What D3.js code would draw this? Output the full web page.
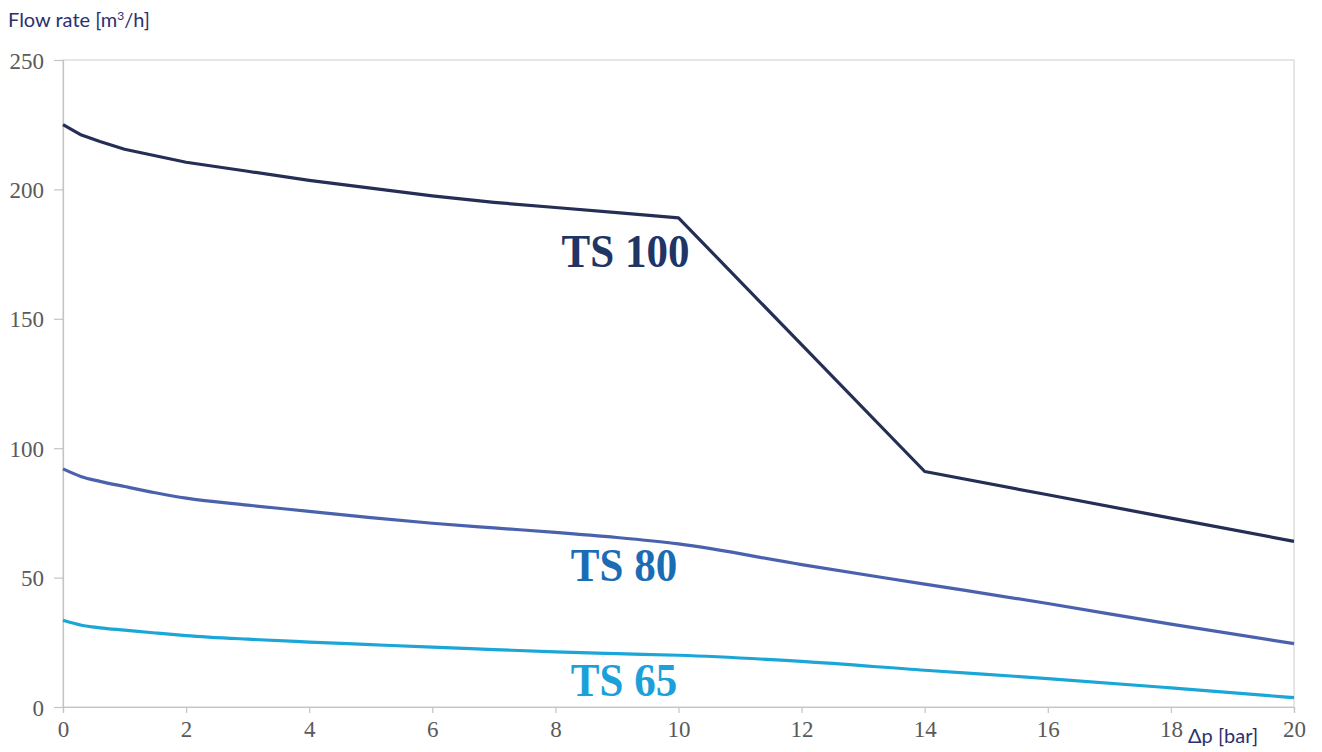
<!DOCTYPE html>
<html>
<head>
<meta charset="utf-8">
<script src="https://cdn.jsdelivr.net/npm/d3@7"></script>
<style>
    body { margin: 0; background: #fff; }
    .tick text { font-family: 'Liberation Serif', 'Times New Roman', serif; fill: #5a5a5a; }
</style>
</head>
<body>
<svg id="chart" width="1322" height="752"></svg>
<script>
// pressure difference [bar]
const pressure = [0, 0.3, 0.6, 1, 1.5, 2, 3, 4, 5, 6, 7, 8, 9, 10, 12, 14, 16, 18, 20];

// flow rate [m3/h] per pump
const ts100 = [225, 221, 218.5, 215.5, 213, 210.5, 207, 203.5, 200.5, 197.5, 195, 193, 191, 189, 140, 91, 82, 73, 64];
const ts80 = [92, 89, 87.2, 85.2, 82.8, 80.7, 78, 75.6, 73.2, 71, 69.2, 67.5, 65.5, 63, 55, 47.5, 40, 32, 24.5];
const ts65 = [33.5, 31.6, 30.6, 29.7, 28.6, 27.6, 26.2, 25.1, 24.1, 23.1, 22.2, 21.3, 20.6, 20, 17.6, 14.2, 11, 7.4, 3.6];

const seriesNames = ['TS 100', 'TS 80', 'TS 65'];
const xTicks = [0, 2, 4, 6, 8, 10, 12, 14, 16, 18, 20];
const yTicks = [0, 50, 100, 150, 200, 250];

const lineColors = ['#252e55', '#4a62ad', '#1ba6d8'];
const labelColors = ['#1f3565', '#1a6db5', '#1ba0da'];
// where each series label sits, in data units
const labelPos = [[8.1, 170], [8.25, 48.5], [8.25, 4.2]];

const svg = d3.select('#chart');
const margin = { top: 60, right: 28, bottom: 45, left: 63 };
const width = svg.attr('width') - margin.left - margin.right;
const height = svg.attr('height') - margin.top - margin.bottom;
const g = svg.append('g').attr('transform', `translate(${margin.left},${margin.top})`);

const x = d3.scaleLinear().domain([0, 20]).range([0, width]);
const y = d3.scaleLinear().domain([0, 250]).range([height, 0]);

// frame
g.append('rect')
    .attr('width', width)
    .attr('height', height)
    .attr('fill', 'none')
    .attr('stroke', '#d6d6d6')
    .attr('stroke-width', 1.2);

const xAxis = g.append('g')
    .attr('transform', `translate(0,${height})`)
    .call(d3.axisBottom(x).tickValues(xTicks).tickSize(6).tickPadding(8).tickFormat(d3.format('d')));
xAxis.selectAll('text').attr('font-size', 23);

const yAxis = g.append('g')
    .call(d3.axisLeft(y).tickValues(yTicks).tickSize(9).tickPadding(10).tickFormat(d3.format('d')));
yAxis.selectAll('text').attr('font-size', 23).attr('dy', '0.35em');

g.selectAll('.domain').attr('stroke', '#c4c4c4').attr('stroke-width', 1.2);
g.selectAll('.tick line').attr('stroke', '#c4c4c4').attr('stroke-width', 1.2);

const allSeries = [ts100, ts80, ts65];
const curves = [d3.curveLinear, d3.curveMonotoneX, d3.curveMonotoneX];

allSeries.forEach((vals, i) => {
    const line = d3.line()
        .x((d, j) => x(pressure[j]))
        .y(d => y(d))
        .curve(curves[i]);
    g.append('path')
        .datum(vals)
        .attr('fill', 'none')
        .attr('stroke', lineColors[i])
        .attr('stroke-width', 3.2)
        .attr('stroke-linejoin', 'round')
        .attr('d', line);

    // labels look slightly stretched vertically in the original
    g.append('text')
        .attr('transform', `translate(${x(labelPos[i][0])},${y(labelPos[i][1])}) scale(1,1.08)`)
        .attr('font-family', "'Liberation Serif', 'Times New Roman', serif")
        .attr('font-weight', 'bold')
        .attr('font-size', 43)
        .attr('fill', labelColors[i])
        .text(seriesNames[i]);
});

// axis titles
svg.append('text')
    .attr('x', 8)
    .attr('y', 27)
    .attr('font-family', 'Lato, sans-serif')
    .attr('font-size', 20)
    .attr('fill', '#2b3070')
    .html('Flow rate [m<tspan dy="-7" font-size="12">3</tspan><tspan dy="7">/h]</tspan>');

svg.append('text')
    .attr('x', 1188)
    .attr('y', 743)
    .attr('font-family', 'Lato, sans-serif')
    .attr('font-size', 20)
    .attr('fill', '#2b3070')
    .text('Δp [bar]');
</script>
</body>
</html>
